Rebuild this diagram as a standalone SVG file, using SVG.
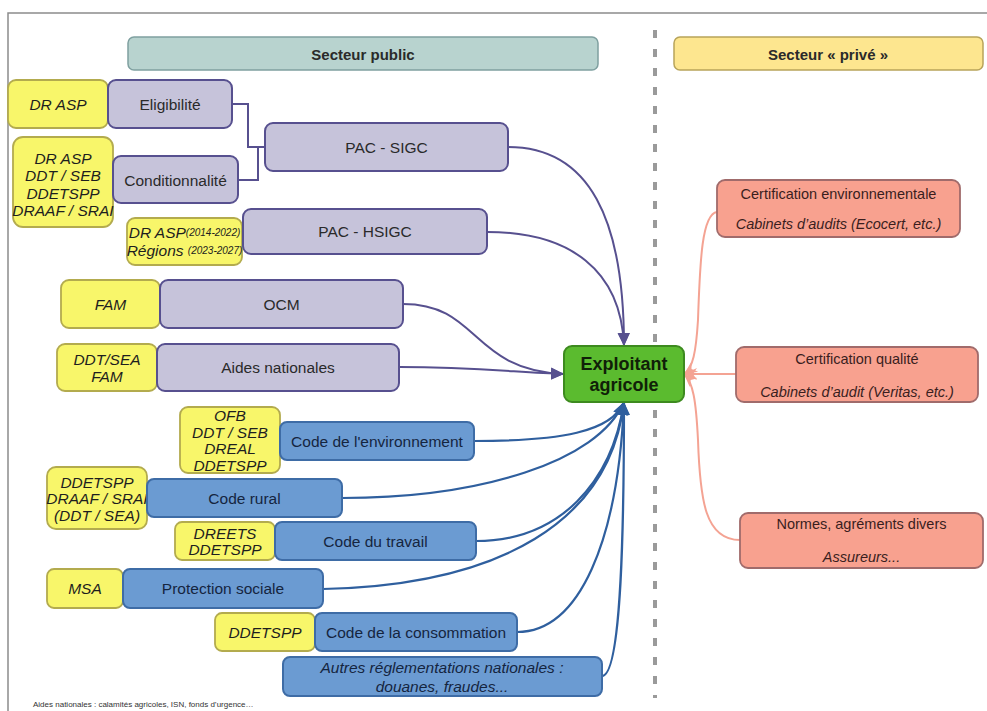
<svg xmlns="http://www.w3.org/2000/svg" width="987" height="711" viewBox="0 0 987 711">
<defs>
<style>
text{font-family:"Liberation Sans",Arial,sans-serif;fill:#2a2a2a;dominant-baseline:central;text-anchor:middle}
.y{fill:#f8f66a;stroke:#b3ab4e;stroke-width:1.8}
.p{fill:#c6c3da;stroke:#57508f;stroke-width:2}
.b{fill:#6b9bd2;stroke:#3e6ca6;stroke-width:2}
.s{fill:#f8a18f;stroke:#a06b6b;stroke-width:1.8}
.yt{font-size:15.5px;font-style:italic;fill:#1e1e1e}
.nt{font-size:15.5px}
.bt{font-size:15.5px;fill:#15253f}
.st{font-size:14.5px;fill:#3a1e1e}
.si{font-size:14.5px;font-style:italic;fill:#3a1e1e}
.sm{font-size:10px}
.cp{fill:none;stroke:#57508f;stroke-width:2}
.cb{fill:none;stroke:#2f5f9e;stroke-width:2.2}
.cs{fill:none;stroke:#f4a393;stroke-width:2}
</style>
<marker id="ap" markerWidth="16" markerHeight="16" refX="13" refY="7.5" orient="auto" markerUnits="userSpaceOnUse"><path d="M0,1.5 L13,7.5 L0,13.5 Z" fill="#57508f"/></marker>
<marker id="ab" markerWidth="16" markerHeight="16" refX="13" refY="7.5" orient="auto" markerUnits="userSpaceOnUse"><path d="M0,1.5 L13,7.5 L0,13.5 Z" fill="#2f5f9e"/></marker>
<marker id="as" markerWidth="16" markerHeight="16" refX="13" refY="7.5" orient="auto" markerUnits="userSpaceOnUse"><path d="M0,1.5 L13,7.5 L0,13.5 L4,7.5 Z" fill="#f4a393"/></marker>
</defs>
<rect width="987" height="711" fill="#ffffff"/>
<g id="frame">
<path d="M8,711 L8,13 L987,13" fill="none" stroke="#8c8c8c" stroke-width="1.5"/>
<line x1="655" y1="30" x2="655" y2="698" stroke="#9a9a9a" stroke-width="4" stroke-dasharray="8 11"/>
</g>
<g id="header-public"><rect x="128" y="37" width="470" height="33" rx="6" fill="#b8d3cf" stroke="#7fa0a0" stroke-width="1.5"/><text x="363" y="54" style="font-size:15px;font-weight:bold">Secteur public</text></g>
<g id="header-prive"><rect x="674" y="37" width="309" height="33" rx="6" fill="#fde68f" stroke="#b8a45a" stroke-width="1.5"/><text x="828" y="54" style="font-size:15px;font-weight:bold">Secteur « privé »</text></g>

<g id="connectors">
<path class="cp" d="M232,104 L248,104 L248,147 L265,147"/>
<path class="cp" d="M238,180 L258,180 L258,147"/>
<path class="cp" d="M508,147 C590,147 624,220 624,346" marker-end="url(#ap)"/>
<path class="cp" d="M487,232 C570,232 621,270 624,346" marker-end="url(#ap)"/>
<path class="cp" d="M403,304 C480,304 470,370 564,374" marker-end="url(#ap)"/>
<path class="cp" d="M399,367 C480,367 520,373 564,374" marker-end="url(#ap)"/>
<path class="cb" d="M474,441 C560,441 612,432 624,402" marker-end="url(#ab)"/>
<path class="cb" d="M342,498 C480,498 598,462 624,402" marker-end="url(#ab)"/>
<path class="cb" d="M476,541 C560,541 612,482 624,402" marker-end="url(#ab)"/>
<path class="cb" d="M323,589 C500,585 610,522 624,402" marker-end="url(#ab)"/>
<path class="cb" d="M517,632 C580,632 618,540 624,402" marker-end="url(#ab)"/>
<path class="cb" d="M602,676 C622,676 624,520 624,402" marker-end="url(#ab)"/>
<path class="cs" d="M717,212 C702,214 700,260 698,320 C696,352 693,368 684,374" marker-end="url(#as)"/>
<path class="cs" d="M736,374 L684,374" marker-end="url(#as)"/>
<path class="cs" d="M740,540 C705,540 700,500 698,440 C696,400 693,382 684,374" marker-end="url(#as)"/>
</g>

<g id="n-drasp1"><rect class="y" x="8" y="80" width="100" height="48" rx="8"/><text class="yt" x="58" y="104">DR ASP</text></g>
<g id="n-eligibilite"><rect class="p" x="108" y="80" width="124" height="48" rx="8"/><text class="nt" x="170" y="104">Eligibilité</text></g>
<g id="n-drasp2"><rect class="y" x="13" y="137" width="100" height="90" rx="10"/><text class="yt" x="63" y="158">DR ASP</text><text class="yt" x="63" y="175.5">DDT / SEB</text><text class="yt" x="63" y="193">DDETSPP</text><text class="yt" x="63" y="210.5">DRAAF / SRAI</text></g>
<g id="n-conditionnalite"><rect class="p" x="113" y="156" width="125" height="47" rx="8"/><text class="nt" x="175.5" y="180">Conditionnalité</text></g>
<g id="n-pacsigc"><rect class="p" x="265" y="123" width="243" height="48" rx="8"/><text class="nt" x="386.5" y="147">PAC - SIGC</text></g>
<g id="n-drasp3"><rect class="y" x="127" y="218" width="115" height="47" rx="8"/><text class="yt" x="184.5" y="232">DR ASP<tspan class="sm">(2014-2022)</tspan></text><text class="yt" x="184.5" y="250">Régions <tspan class="sm">(2023-2027)</tspan></text></g>
<g id="n-pachsigc"><rect class="p" x="243" y="209" width="244" height="45" rx="8"/><text class="nt" x="365" y="231.5">PAC - HSIGC</text></g>
<g id="n-fam"><rect class="y" x="61" y="280" width="99" height="48" rx="8"/><text class="yt" x="110.5" y="304">FAM</text></g>
<g id="n-ocm"><rect class="p" x="160" y="280" width="243" height="48" rx="8"/><text class="nt" x="281.5" y="304">OCM</text></g>
<g id="n-ddtsea"><rect class="y" x="57" y="344" width="100" height="47" rx="8"/><text class="yt" x="107" y="359">DDT/SEA</text><text class="yt" x="107" y="376">FAM</text></g>
<g id="n-aides"><rect class="p" x="157" y="344" width="242" height="47" rx="8"/><text class="nt" x="278" y="367.5">Aides nationales</text></g>
<g id="n-exploitant"><rect x="564" y="346" width="120" height="56" rx="8" fill="#5bbb2f" stroke="#3d8a1f" stroke-width="2"/><text x="624" y="364" style="font-size:18px;font-weight:bold;fill:#102008">Exploitant</text><text x="624" y="385" style="font-size:18px;font-weight:bold;fill:#102008">agricole</text></g>
<g id="n-ofb"><rect class="y" x="180" y="407" width="100" height="66" rx="8"/><text class="yt" x="230" y="415">OFB</text><text class="yt" x="230" y="432">DDT / SEB</text><text class="yt" x="230" y="448.5">DREAL</text><text class="yt" x="230" y="465">DDETSPP</text></g>
<g id="n-codeenv"><rect class="b" x="280" y="422" width="194" height="38" rx="7"/><text class="bt" x="377" y="441">Code de l'environnement</text></g>
<g id="n-ddetspp1"><rect class="y" x="47" y="467" width="100" height="62" rx="9"/><text class="yt" x="97" y="482">DDETSPP</text><text class="yt" x="97" y="498.5">DRAAF / SRAI</text><text class="yt" x="97" y="515">(DDT / SEA)</text></g>
<g id="n-coderural"><rect class="b" x="147" y="479" width="195" height="38" rx="7"/><text class="bt" x="244.5" y="498">Code rural</text></g>
<g id="n-dreets"><rect class="y" x="175" y="522" width="100" height="38" rx="7"/><text class="yt" x="225" y="533">DREETS</text><text class="yt" x="225" y="549">DDETSPP</text></g>
<g id="n-codetravail"><rect class="b" x="275" y="522" width="201" height="38" rx="7"/><text class="bt" x="375.5" y="541">Code du travail</text></g>
<g id="n-msa"><rect class="y" x="47" y="569" width="76" height="39" rx="7"/><text class="yt" x="85" y="588.5">MSA</text></g>
<g id="n-protection"><rect class="b" x="123" y="569" width="200" height="39" rx="7"/><text class="bt" x="223" y="588.5">Protection sociale</text></g>
<g id="n-ddetspp2"><rect class="y" x="215" y="613" width="100" height="38" rx="7"/><text class="yt" x="265" y="632">DDETSPP</text></g>
<g id="n-conso"><rect class="b" x="315" y="613" width="202" height="38" rx="7"/><text class="bt" x="416" y="632">Code de la consommation</text></g>
<g id="n-autres"><rect class="b" x="283" y="657" width="319" height="39" rx="7"/><text class="bt" x="442" y="667" style="font-style:italic">Autres réglementations nationales :</text><text class="bt" x="442" y="686" style="font-style:italic">douanes, fraudes...</text></g>

<g id="n-certenv"><rect class="s" x="717" y="180" width="243" height="57" rx="8"/><text class="st" x="838.5" y="194">Certification environnementale</text><text class="si" x="838.5" y="224">Cabinets d’audits (Ecocert, etc.)</text></g>
<g id="n-certqual"><rect class="s" x="736" y="347" width="242" height="55" rx="8"/><text class="st" x="857" y="359">Certification qualité</text><text class="si" x="857" y="392">Cabinets d’audit (Veritas, etc.)</text></g>
<g id="n-normes"><rect class="s" x="740" y="513" width="243" height="55" rx="8"/><text class="st" x="861.5" y="524">Normes, agréments divers</text><text class="si" x="861.5" y="557">Assureurs...</text></g>

<text x="33" y="704" style="font-size:8px;text-anchor:start;fill:#333">Aides nationales : calamités agricoles, ISN, fonds d’urgence…</text>
</svg>
